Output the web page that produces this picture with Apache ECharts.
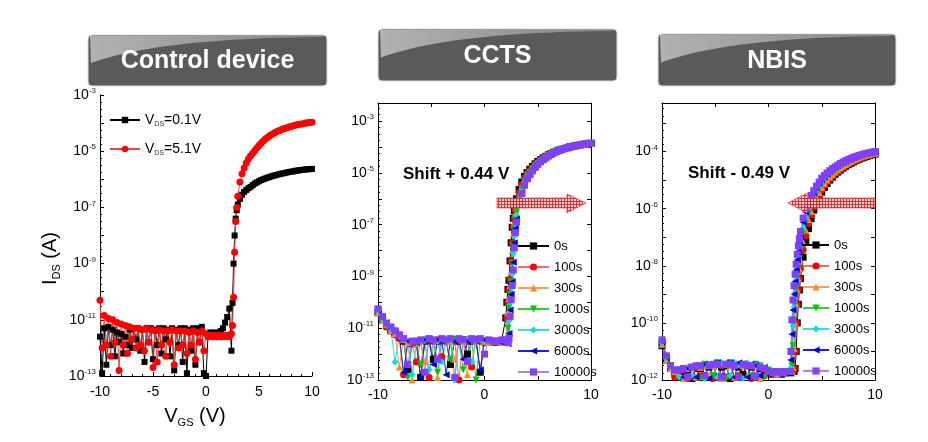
<!DOCTYPE html>
<html><head><meta charset="utf-8">
<script src="https://cdn.jsdelivr.net/npm/echarts@6/dist/echarts.min.js"></script>
<style>html,body{margin:0;padding:0;background:#fff}#c{width:928px;height:442px}</style>
</head><body><div id="c"></div>
<script>
const FONT = '"Liberation Sans", Arial, Helvetica, sans-serif';

// ---------- panel titles / annotations ----------
const panelTitles = ['Control device', 'CCTS', 'NBIS'];
const shiftLabels = ['Shift + 0.44 V', 'Shift - 0.49 V'];

// ---------- Control device (log10 of I_DS in A) ----------
const controlNames = ['VDS=0.1V', 'VDS=5.1V'];
const vgsControl = [-10,-9.8,-9.6,-9.4,-9.2,-9,-8.8,-8.6,-8.4,-8.2,-8,-7.8,-7.6,-7.4,-7.2,-7,-6.8,-6.6,-6.4,-6.2,-6,-5.8,-5.6,-5.4,-5.2,-5,-4.8,-4.6,-4.4,-4.2,-4,-3.8,-3.6,-3.4,-3.2,-3,-2.8,-2.6,-2.4,-2.2,-2,-1.8,-1.6,-1.4,-1.2,-1,-0.8,-0.6,-0.4,-0.2,0,0.2,0.4,0.6,0.8,1,1.2,1.4,1.6,1.8,2,2.2,2.4,
  2.5,2.6,2.7,2.8,2.9,3,
  3.2,3.4,3.6,3.8,4,4.2,4.4,4.6,4.8,5,5.2,5.4,5.6,5.8,6,6.2,6.4,6.6,6.8,7,7.2,7.4,7.6,7.8,8,8.2,8.4,8.6,8.8,9,9.2,9.4,9.6,9.8,10];
const logIdsVds01 = [-11.6,-12.9,-11.3,-12.6,-11.25,-11.9,-11.35,-12.3,-11.45,-11.8,
  -11.5,-12.2,-11.6,-11.9,-11.35,-12.0,-11.3,-11.7,-11.3,-12.1,
  -11.35,-12.5,-11.3,-11.8,-11.3,-12.4,-11.35,-11.9,-11.3,-12.2,
  -11.3,-11.7,-11.35,-12.3,-11.3,-12.8,-11.35,-11.9,-11.3,-12.5,
  -11.3,-12.9,-11.35,-12.1,-11.3,-12.6,-11.3,-11.8,-11.25,-12.9,
  -13.0,-11.5,-11.45,-11.5,-11.45,-11.5,-11.45,-11.4,-11.3,-11.1,
  -10.9,-10.6,-12.1,
  -10.4,-9.0,-8.0,-7.4,-7.1,-6.9,
  -6.7,-6.55,-6.45,-6.38,-6.32,-6.27,-6.21,-6.15,-6.11,-6.07,-6.03,-6.0,-5.97,-5.94,-5.92,-5.89,-5.87,-5.85,-5.83,-5.81,-5.79,-5.78,-5.76,-5.74,-5.73,-5.72,-5.7,-5.69,-5.68,-5.67,-5.66,-5.65,-5.64,-5.64,-5.63];
const logIdsVds51 = [-10.3,-12.0,-10.85,-11.9,-10.95,-12.3,-11.0,-11.8,-11.1,-12.8,
  -11.15,-11.9,-11.2,-12.2,-11.25,-11.7,-11.3,-12.0,-11.3,-11.9,
  -11.35,-12.1,-11.3,-11.8,-11.35,-12.7,-11.4,-12.5,-11.35,-11.9,
  -11.4,-12.3,-11.4,-11.8,-11.35,-12.6,-11.4,-12.0,-11.4,-11.9,
  -11.4,-12.2,-11.45,-11.9,-11.4,-12.4,-11.45,-11.8,-11.4,-12.1,
  -11.5,-11.6,-11.55,-11.6,-11.55,-11.6,-11.55,-11.6,-11.55,-11.6,
  -11.55,-11.6,-11.5,
  -11.2,-10.2,-8.6,-7.5,-7.0,-6.6,
  -6.1,-5.8,-5.6,-5.42,-5.28,-5.17,-5.07,-4.98,-4.89,-4.8,-4.72,-4.64,-4.57,-4.51,-4.45,-4.41,-4.36,-4.32,-4.28,-4.25,-4.22,-4.19,-4.17,-4.14,-4.12,-4.1,-4.08,-4.06,-4.04,-4.03,-4.02,-4.0,-3.99,-3.98,-3.97];

// ---------- stress panels ----------
const stressNames = ['0s','100s','300s','1000s','3000s','6000s','10000s'];
const vgsStress = [-10,-9.6,-9.2,-8.8,-8.4,-8,-7.6,-7.2,-6.8,-6.4,-6,-5.6,-5.2,-4.8,-4.4,-4,-3.6,-3.2,-2.8,-2.4,-2,-1.6,-1.2,-0.8,-0.4,0,0.4,0.8,1.2,1.6,
  2,2.1,2.2,2.3,2.4,2.5,2.6,2.7,2.8,2.9,
  3,3.25,3.5,3.75,4,4.25,4.5,4.75,5,5.25,5.5,5.75,6,6.25,6.5,6.75,7,7.25,7.5,7.75,8,8.25,8.5,8.75,9,9.25,9.5,9.75,10];

// CCTS (log10 I_DS)
const ccts0s = [-10.4,-10.7,-10.9,-11.1,-11.2,-11.35,-11.5,-12.6,-11.6,-11.55,-12.9,-11.5,-11.45,-12.2,-11.5,-11.45,-11.5,-12.4,-11.45,-11.5,-11.45,-12.0,-11.5,-11.45,-12.7,-11.5,-11.5,-11.5,-11.55,-11.5,
  -10.6,-10.0,-9.5,-9.15,-8.4,-7.7,-7.1,-6.75,-6.45,-6.2,
  -6.0,-5.64,-5.35,-5.14,-4.99,-4.86,-4.75,-4.65,-4.56,-4.49,-4.42,-4.36,-4.3,-4.25,-4.2,-4.16,-4.12,-4.09,-4.06,-4.03,-4.0,-3.98,-3.96,-3.94,-3.92,-3.9,-3.89,-3.87,-3.86];
const ccts100s = [-10.35,-10.65,-10.95,-11.05,-11.25,-11.4,-12.8,-11.55,-11.6,-12.3,-11.5,-11.45,-12.9,-11.5,-11.45,-12.1,-11.5,-11.45,-11.5,-13.0,-11.45,-11.5,-12.5,-11.45,-11.5,-11.55,-11.5,-11.55,-11.5,-11.5,
  -11.5,-10.6,-10.0,-9.5,-9.1,-8.4,-7.7,-7.1,-6.75,-6.45,
  -6.2,-5.77,-5.45,-5.2,-5.03,-4.9,-4.78,-4.68,-4.59,-4.51,-4.44,-4.37,-4.31,-4.26,-4.21,-4.17,-4.13,-4.09,-4.06,-4.03,-4.0,-3.98,-3.96,-3.94,-3.92,-3.9,-3.89,-3.87,-3.86];
const ccts300s = [-10.4,-10.7,-10.85,-11.1,-11.2,-12.5,-11.45,-11.55,-13.0,-11.6,-11.5,-12.3,-11.45,-11.5,-12.9,-11.45,-11.5,-11.5,-12.2,-11.45,-11.5,-12.8,-11.45,-11.5,-11.45,-11.5,-11.55,-11.5,-11.5,-11.55,
  -11.5,-11.3,-10.4,-9.85,-9.35,-8.8,-8.0,-7.35,-6.9,-6.6,
  -6.33,-5.86,-5.52,-5.25,-5.06,-4.93,-4.81,-4.7,-4.61,-4.53,-4.45,-4.38,-4.32,-4.26,-4.21,-4.17,-4.13,-4.09,-4.06,-4.03,-4.0,-3.98,-3.96,-3.94,-3.92,-3.9,-3.89,-3.87,-3.86];
const ccts1000s = [-10.3,-10.6,-10.9,-11.0,-11.15,-11.3,-11.45,-12.9,-11.55,-11.6,-12.4,-11.5,-11.45,-11.5,-12.7,-11.45,-11.5,-12.2,-11.45,-11.5,-12.6,-11.45,-11.5,-13.0,-11.45,-11.5,-11.5,-11.55,-11.5,-11.5,
  -11.5,-11.6,-11.0,-10.2,-9.7,-9.2,-8.5,-7.8,-7.2,-6.8,
  -6.5,-5.98,-5.62,-5.33,-5.12,-4.98,-4.85,-4.73,-4.63,-4.54,-4.46,-4.39,-4.33,-4.27,-4.22,-4.17,-4.13,-4.09,-4.06,-4.03,-4.0,-3.98,-3.96,-3.94,-3.92,-3.9,-3.88,-3.86,-3.85];
const ccts3000s = [-10.35,-10.65,-10.85,-11.05,-12.3,-11.3,-11.4,-11.5,-12.8,-11.55,-11.5,-11.45,-12.6,-11.45,-11.5,-12.3,-11.45,-11.5,-13.0,-11.45,-11.5,-11.45,-12.3,-11.5,-11.45,-11.5,-11.5,-11.5,-11.55,-11.5,
  -11.5,-11.55,-11.5,-10.7,-10.0,-9.45,-8.9,-8.1,-7.45,-6.98,
  -6.63,-6.07,-5.7,-5.4,-5.16,-5.02,-4.88,-4.76,-4.65,-4.55,-4.47,-4.4,-4.34,-4.28,-4.22,-4.17,-4.13,-4.09,-4.06,-4.03,-4.0,-3.97,-3.95,-3.93,-3.91,-3.89,-3.88,-3.86,-3.85];
const ccts6000s = [-10.3,-10.6,-10.8,-11.0,-11.15,-11.3,-12.7,-11.5,-11.55,-11.55,-12.9,-11.45,-11.5,-12.4,-11.45,-11.5,-12.8,-11.45,-11.5,-11.45,-12.2,-11.5,-11.45,-11.5,-12.6,-11.45,-11.5,-11.5,-11.5,-11.55,
  -11.5,-11.5,-11.6,-11.2,-10.3,-9.7,-9.2,-8.45,-7.7,-7.15,
  -6.78,-6.15,-5.76,-5.44,-5.2,-5.05,-4.9,-4.77,-4.66,-4.56,-4.48,-4.41,-4.34,-4.28,-4.22,-4.17,-4.13,-4.09,-4.06,-4.03,-4.0,-3.97,-3.95,-3.93,-3.91,-3.89,-3.88,-3.86,-3.85];
const ccts10000s = [-10.25,-10.55,-10.8,-10.95,-11.1,-11.25,-11.4,-12.4,-11.5,-11.5,-11.45,-12.7,-11.4,-11.45,-12.2,-11.4,-11.45,-11.4,-12.9,-11.4,-11.45,-12.3,-11.4,-11.45,-11.4,-12.0,-11.45,-11.5,-11.5,-11.45,
  -11.45,-11.5,-11.55,-11.4,-10.55,-9.9,-9.35,-8.75,-7.9,-7.3,
  -6.9,-6.22,-5.8,-5.48,-5.23,-5.07,-4.92,-4.79,-4.67,-4.57,-4.49,-4.42,-4.35,-4.29,-4.23,-4.18,-4.14,-4.1,-4.06,-4.03,-4.0,-3.97,-3.95,-3.93,-3.91,-3.89,-3.88,-3.86,-3.85];

// NBIS (log10 I_DS)
const nbis0s = [-10.8,-11.3,-11.6,-11.75,-11.9,-11.7,-11.65,-11.95,-11.6,-11.6,-11.85,-11.55,-11.5,-11.9,-11.55,-11.5,-11.95,-11.5,-11.55,-11.8,-11.5,-11.55,-11.9,-11.6,-11.65,-11.75,-11.8,-11.75,-11.8,-11.75,
  -11.7,-11.75,-11.7,-11.65,-11.7,-11.6,-11.0,-10.0,-9.35,-8.85,
  -8.45,-7.7,-7.15,-6.7,-6.35,-6.05,-5.8,-5.6,-5.42,-5.26,-5.12,-5.0,-4.9,-4.8,-4.72,-4.65,-4.58,-4.52,-4.46,-4.41,-4.36,-4.31,-4.27,-4.23,-4.2,-4.17,-4.14,-4.11,-4.09];
const nbis100s = [-10.65,-11.2,-11.55,-11.9,-11.7,-11.65,-11.95,-11.6,-11.55,-11.85,-11.5,-11.5,-11.95,-11.45,-11.5,-11.9,-11.45,-11.5,-11.85,-11.5,-11.45,-11.95,-11.5,-11.55,-11.85,-11.7,-11.75,-11.8,-11.7,-11.75,
  -11.7,-11.7,-11.65,-11.7,-11.6,-11.0,-10.0,-9.35,-8.85,-8.45,
  -8.1,-7.45,-6.95,-6.53,-6.22,-5.94,-5.71,-5.51,-5.34,-5.19,-5.06,-4.95,-4.85,-4.76,-4.68,-4.61,-4.55,-4.49,-4.43,-4.38,-4.33,-4.29,-4.25,-4.21,-4.18,-4.15,-4.12,-4.09,-4.07];
const nbis300s = [-10.75,-11.3,-11.6,-11.7,-11.75,-11.95,-11.6,-11.6,-11.9,-11.55,-11.5,-11.85,-11.5,-11.45,-11.95,-11.45,-11.5,-11.9,-11.45,-11.5,-11.85,-11.5,-11.5,-11.95,-11.6,-11.7,-11.75,-11.8,-11.75,-11.7,
  -11.7,-11.65,-11.7,-11.55,-10.9,-10.0,-9.35,-8.85,-8.45,-8.1,
  -7.8,-7.18,-6.75,-6.38,-6.09,-5.83,-5.61,-5.43,-5.26,-5.12,-5.0,-4.89,-4.8,-4.72,-4.64,-4.57,-4.51,-4.45,-4.4,-4.35,-4.3,-4.26,-4.22,-4.18,-4.15,-4.12,-4.1,-4.07,-4.05];
const nbis1000s = [-10.6,-11.2,-11.5,-11.7,-11.65,-11.6,-11.9,-11.55,-11.55,-11.95,-11.45,-11.5,-11.85,-11.4,-11.45,-11.95,-11.4,-11.45,-11.9,-11.45,-11.5,-11.85,-11.45,-11.5,-11.9,-11.65,-11.7,-11.75,-11.7,-11.8,
  -11.7,-11.7,-11.5,-10.8,-9.9,-9.3,-8.8,-8.4,-8.05,-7.75,
  -7.45,-6.9,-6.5,-6.17,-5.9,-5.67,-5.48,-5.3,-5.15,-5.03,-4.92,-4.82,-4.73,-4.65,-4.58,-4.52,-4.46,-4.41,-4.36,-4.31,-4.27,-4.23,-4.19,-4.16,-4.13,-4.1,-4.08,-4.05,-4.03];
const nbis3000s = [-10.7,-11.25,-11.55,-11.65,-11.9,-11.6,-11.55,-11.85,-11.5,-11.5,-11.95,-11.45,-11.45,-11.9,-11.4,-11.45,-11.85,-11.4,-11.45,-11.95,-11.4,-11.5,-11.9,-11.5,-11.6,-11.7,-11.75,-11.7,-11.75,-11.7,
  -11.7,-11.6,-11.0,-10.1,-9.45,-8.95,-8.5,-8.1,-7.75,-7.45,
  -7.2,-6.68,-6.3,-5.99,-5.75,-5.54,-5.37,-5.2,-5.06,-4.95,-4.85,-4.76,-4.68,-4.61,-4.54,-4.48,-4.42,-4.37,-4.33,-4.28,-4.24,-4.2,-4.17,-4.14,-4.11,-4.08,-4.06,-4.04,-4.02];
const nbis6000s = [-10.65,-11.2,-11.5,-11.65,-11.7,-11.9,-11.6,-11.55,-11.9,-11.5,-11.45,-11.95,-11.4,-11.4,-11.85,-11.4,-11.4,-11.9,-11.4,-11.45,-11.9,-11.45,-11.5,-11.85,-11.55,-11.7,-11.7,-11.75,-11.7,-11.75,
  -11.7,-11.3,-10.4,-9.55,-9.0,-8.55,-8.15,-7.8,-7.5,-7.2,
  -6.95,-6.48,-6.12,-5.84,-5.62,-5.43,-5.27,-5.12,-4.98,-4.88,-4.79,-4.7,-4.63,-4.56,-4.5,-4.44,-4.39,-4.34,-4.3,-4.26,-4.22,-4.18,-4.15,-4.12,-4.09,-4.07,-4.05,-4.03,-4.01];
const nbis10000s = [-10.6,-11.15,-11.5,-11.65,-11.65,-11.6,-11.9,-11.55,-11.5,-11.5,-11.85,-11.5,-11.45,-11.45,-11.9,-11.45,-11.45,-11.5,-11.9,-11.45,-11.5,-11.5,-11.85,-11.55,-11.6,-11.7,-11.75,-11.7,-11.75,-11.7,
  -11.7,-11.0,-9.9,-9.2,-8.7,-8.3,-7.95,-7.6,-7.3,-7.05,
  -6.8,-6.33,-6.0,-5.75,-5.54,-5.37,-5.21,-5.07,-4.93,-4.84,-4.75,-4.67,-4.6,-4.54,-4.48,-4.42,-4.37,-4.32,-4.28,-4.24,-4.2,-4.17,-4.14,-4.11,-4.08,-4.06,-4.04,-4.02,-4.0];

const cctsSeries = [ccts0s, ccts100s, ccts300s, ccts1000s, ccts3000s, ccts6000s, ccts10000s];
const nbisSeries = [nbis0s, nbis100s, nbis300s, nbis1000s, nbis3000s, nbis6000s, nbis10000s];

// ---------- styles ----------
const stressColors = ['#000000','#ff0000','#ff8c1a','#00c800','#00e0e0','#0000dd','#8040ff'];
const stressLineColors = ['#000000','#f06a6a','#f0a060','#30d030','#30e0e0','#2020e0','#b080ec'];
const stressSymbols = ['rect','circle','triangle','triangle','diamond','triangle','rect'];
const stressRotate = [0,0,0,180,0,90,0];

const chart = echarts.init(document.getElementById('c'), null, {renderer: 'canvas'});

function pairs(xs, ys) { return xs.map((x, i) => [x, ys[i]]); }

function lineSeries(name, xs, ys, xi, yi, color, lineColor, symbol, rot, size) {
  return {
    name, type: 'line', xAxisIndex: xi, yAxisIndex: yi,
    data: pairs(xs, ys), symbol, symbolRotate: rot, symbolSize: size,
    showAllSymbol: true, clip: true,
    itemStyle: {color: color, borderWidth: 0},
    lineStyle: {color: lineColor, width: 1},
    emphasis: {disabled: true}, animation: false
  };
}

const supRich = {
  b: {fontSize: 14, lineHeight: 16, color: '#000', fontFamily: FONT},
  s: {fontSize: 8, lineHeight: 8, verticalAlign: 'top', color: '#222', fontFamily: FONT}
};
function logLabel(parity) {
  return function (v) {
    const n = Math.round(v);
    if (Math.abs(v - n) > 1e-6) return '';
    if (Math.abs(n % 2) !== parity) return '';
    return '{b|10}{s|' + n + '}';
  };
}
const subRich = {
  v: {fontSize: 20, lineHeight: 24, color: '#000', fontFamily: FONT},
  s: {fontSize: 11, lineHeight: 11, verticalAlign: 'bottom', color: '#000', fontFamily: FONT}
};

function frameAxisX(gi, pos, showLabel) {
  return {
    gridIndex: gi, type: 'value', min: -10, max: 10, interval: 5, position: pos,
    axisLine: {show: true, onZero: false, lineStyle: {color: '#000', width: 1}},
    axisTick: {show: true, inside: true, length: 4, lineStyle: {color: '#000'}},
    splitLine: {show: false},
    axisLabel: {show: showLabel, margin: 8, fontSize: 14, color: '#000', fontFamily: FONT,
      formatter: v => (Math.abs(v % 10) < 1e-9 ? String(v) : '')}
  };
}
function frameAxisY(gi, pos, min, max, parity, showLabel) {
  return {
    gridIndex: gi, type: 'value', min, max, interval: 1, position: pos,
    axisLine: {show: true, onZero: false, lineStyle: {color: '#000', width: 1}},
    axisTick: {show: true, inside: true, length: 4, lineStyle: {color: '#000'}},
    minorTick: {show: showLabel, splitNumber: 4, length: 2, lineStyle: {color: '#000'}},
    splitLine: {show: false},
    axisLabel: {show: showLabel, margin: 4, formatter: logLabel(parity), rich: supRich}
  };
}

// hatched fill for arrows
const pc = document.createElement('canvas');
pc.width = 3; pc.height = 3;
const pctx = pc.getContext('2d');
pctx.fillStyle = '#f8d0d0'; pctx.fillRect(0, 0, 3, 3);
pctx.fillStyle = '#d82020'; pctx.fillRect(0, 0, 3, 1); pctx.fillRect(0, 0, 1, 3);
const hatch = {image: pc, repeat: 'repeat'};

function titleBox(x, y, w, h, label) {
  const pts = [[x + 2, y + 1], [x + w - 4, y + 1]];
  for (let i = 0; i <= 20; i++) {
    const t = i / 20;
    const p0 = [x + w - 4, y + 2], p1 = [x + w * 0.3, y + 3], p2 = [x + 3, y + h * 0.55];
    const px = (1 - t) * (1 - t) * p0[0] + 2 * (1 - t) * t * p1[0] + t * t * p2[0];
    const py = (1 - t) * (1 - t) * p0[1] + 2 * (1 - t) * t * p1[1] + t * t * p2[1];
    pts.push([px, py]);
  }
  return {
    type: 'group', children: [
      {type: 'rect', shape: {x, y, width: w, height: h, r: 4}, style: {fill: '#5a5a5a', stroke: '#dcdcdc', lineWidth: 1}},
      {type: 'polygon', shape: {points: pts}, style: {fill: {type: 'linear', x: 0, y: 0, x2: 1, y2: 0,
        colorStops: [{offset: 0, color: '#b2b2b2'}, {offset: 1, color: '#858585'}]}}},
      {type: 'text', style: {text: label, x: x + w / 2, y: y + h / 2 + 1, align: 'center', verticalAlign: 'middle',
        fill: '#ffffff', font: 'bold 25px ' + FONT}}
    ]
  };
}

const series = [];
series.push(lineSeries(controlNames[0], vgsControl, logIdsVds01, 0, 0, '#000000', '#000000', 'rect', 0, 6));
series.push(lineSeries(controlNames[1], vgsControl, logIdsVds51, 0, 0, '#ff0000', '#f04040', 'circle', 0, 7));
stressNames.forEach((n, i) => {
  series.push(lineSeries(n, vgsStress, cctsSeries[i], 1, 1, stressColors[i], stressLineColors[i], stressSymbols[i], stressRotate[i], 7));
});
stressNames.forEach((n, i) => {
  series.push(lineSeries(n, vgsStress, nbisSeries[i], 3, 3, stressColors[i], stressLineColors[i], stressSymbols[i], stressRotate[i], 7));
});

const option = {
  backgroundColor: '#ffffff',
  animation: false,
  textStyle: {fontFamily: FONT},
  grid: [
    {left: 100, top: 95, width: 212, height: 281, outerBoundsMode: 'none'},
    {left: 378, top: 103, width: 213, height: 277, outerBoundsMode: 'none'},
    {left: 662, top: 103, width: 213, height: 277, outerBoundsMode: 'none'}
  ],
  xAxis: [
    Object.assign(frameAxisX(0, 'bottom', true), {
      axisLabel: {margin: 9, fontSize: 14, color: '#000', fontFamily: FONT},
      minorTick: {show: true, splitNumber: 5, length: 2, lineStyle: {color: '#000'}},
      name: '{v|V}{s|GS}{v| (V)}', nameLocation: 'middle', nameGap: 28,
      nameTextStyle: {rich: subRich, padding: [0, 22, 0, 0]}
    }),
    frameAxisX(1, 'bottom', true),
    frameAxisX(1, 'top', false),
    frameAxisX(2, 'bottom', true),
    frameAxisX(2, 'top', false)
  ],
  yAxis: [
    Object.assign(frameAxisY(0, 'left', -13, -3, 1, true), {
      name: '{v|I}{s|DS}{v| (A)}', nameLocation: 'middle', nameGap: 38,
      nameTextStyle: {rich: subRich, padding: [0, 46, 0, 0]}
    }),
    frameAxisY(1, 'left', -13, -2.3, 1, true),
    frameAxisY(1, 'right', -13, -2.3, 1, false),
    frameAxisY(2, 'left', -12, -2.3, 0, true),
    frameAxisY(2, 'right', -12, -2.3, 0, false)
  ],
  legend: [
    {data: controlNames, orient: 'vertical', left: 104, top: 108, itemGap: 14, itemWidth: 30, itemHeight: 8,
      selectedMode: false,
      formatter: n => '{v|V}{s|DS}{v|' + n.slice(3) + '}',
      textStyle: {rich: {
        v: {fontSize: 14, lineHeight: 16, color: '#000', fontFamily: FONT},
        s: {fontSize: 7, lineHeight: 7, verticalAlign: 'bottom', color: '#333', fontFamily: FONT}}}},
    {data: stressNames, orient: 'vertical', left: 512, top: 234, itemGap: 7, itemWidth: 31, itemHeight: 9,
      selectedMode: false, textStyle: {fontSize: 13, lineHeight: 14, color: '#000', fontFamily: FONT}},
    {data: stressNames, orient: 'vertical', left: 797, top: 233, itemGap: 7, itemWidth: 26, itemHeight: 9,
      selectedMode: false, textStyle: {fontSize: 13, lineHeight: 14, color: '#000', fontFamily: FONT}}
  ],
  graphic: {elements: [
    titleBox(88, 35, 239, 51, panelTitles[0]),
    titleBox(378, 29, 239, 52, panelTitles[1]),
    titleBox(658, 34, 238, 52, panelTitles[2]),
    {type: 'text', z: 100, style: {text: shiftLabels[0], x: 403, y: 174, verticalAlign: 'middle', fill: '#000', font: 'bold 17px ' + FONT}},
    {type: 'text', z: 100, style: {text: shiftLabels[1], x: 688, y: 173, verticalAlign: 'middle', fill: '#000', font: 'bold 17px ' + FONT}},
    {type: 'polygon', z: 100, shape: {points: [[497,198],[567,198],[567,194],[586,203],[567,213],[567,208],[497,208]]},
      style: {fill: hatch, stroke: '#e04848', lineWidth: 0.8, opacity: 0.92}},
    {type: 'polygon', z: 100, shape: {points: [[875,198],[807,198],[807,193],[788,203],[807,213],[807,208],[875,208]]},
      style: {fill: hatch, stroke: '#e04848', lineWidth: 0.8, opacity: 0.92}}
  ]},
  series
};
chart.setOption(option);
</script>
</body></html>
